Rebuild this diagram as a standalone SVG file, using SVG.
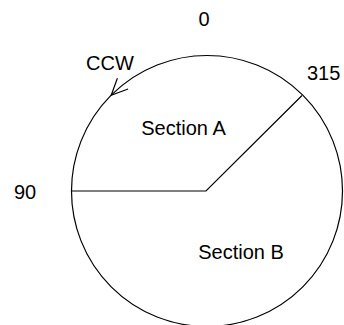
<svg xmlns="http://www.w3.org/2000/svg" width="344" height="325" viewBox="0 0 344 325">
  <style>
    .ln { fill: none; stroke: #000; stroke-width: 1.2; }
    .lbl { font-family: "Liberation Sans", Arial, sans-serif; font-size: 20px; fill: #000; }
  </style>
  <rect width="344" height="325" fill="#fff"/>
  <g id="circle">
    <circle class="ln" cx="207" cy="191" r="135.5"/>
  </g>
  <g id="connectors">
    <polyline class="ln" points="71.5,191 206,191 302,95.5"/>
    <path class="ln" d="M117.4,78.3 L111.2,95.2 L128.1,89"/>
  </g>
  <g id="label-0"><text class="lbl" x="204" y="26" text-anchor="middle">0</text></g>
  <g id="label-ccw"><text class="lbl" x="86" y="70">CCW</text></g>
  <g id="label-315"><text class="lbl" x="307" y="80">315</text></g>
  <g id="label-90"><text class="lbl" x="14" y="199">90</text></g>
  <g id="section-a"><text class="lbl" x="183.5" y="135" text-anchor="middle">Section A</text></g>
  <g id="section-b"><text class="lbl" x="241" y="259" text-anchor="middle">Section B</text></g>
</svg>
